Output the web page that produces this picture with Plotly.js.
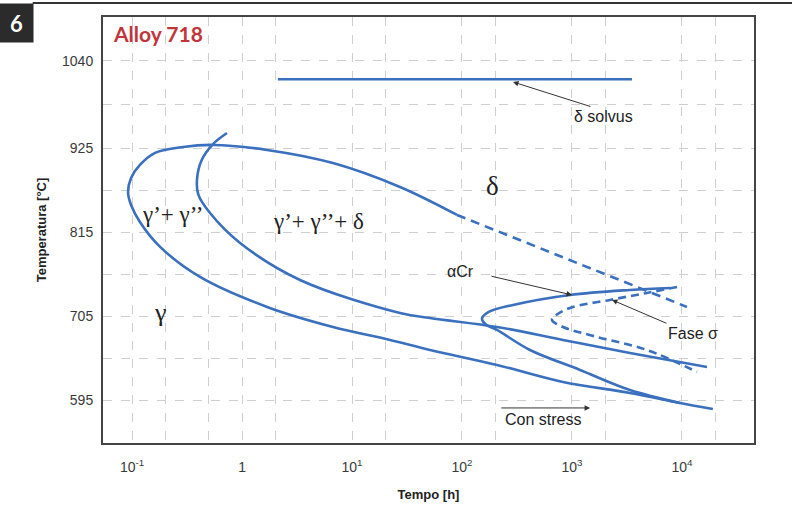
<!DOCTYPE html>
<html>
<head>
<meta charset="utf-8">
<script src="https://cdn.plot.ly/plotly-3.0.1.min.js"></script>
<style>html,body{margin:0;padding:0;background:#fff;}#chart{width:792px;height:512px;}</style>
</head>
<body>
<div id="chart"></div>
<script>
// Tick labels
const xTickVals = [0.1, 1, 10, 100, 1000, 10000];
const xTickText = ['10<sup>-1</sup>', '1', '10<sup>1</sup>', '10<sup>2</sup>', '10<sup>3</sup>', '10<sup>4</sup>'];
const xMinorGrid = [0.2, 0.5, 2, 20, 200, 2000, 20000];
const yTickVals = [595, 705, 815, 925, 1040];
const yMinorGrid = [650, 760, 870, 982.5];

// delta solvus
const solvusTime = [2.12, 3510];
const solvusTemp = [1016, 1016];

// outer curve: gamma'+gamma'' start (upper boundary, nose, lower branch)
const outerTime = [90.1, 27.3, 6.71, 1.69, 0.545, 0.291, 0.162, 0.118, 0.098, 0.092, 0.098, 0.118, 0.18, 0.415, 1.69, 6.71, 22.2, 51.2, 208, 828, 3367, 9590, 19100];
const outerTemp = [837.9, 874.6, 906, 923.2, 929.8, 927.1, 919.3, 903.5, 886.5, 868.1, 851.0, 828.7, 796, 756.6, 717.2, 690.9, 673.9, 660.7, 641.1, 618.7, 604.3, 591.2, 583.3];

// inner curve: delta start
const innerTime = [0.73, 0.545, 0.43, 0.39, 0.40, 0.512, 0.96, 3.37, 27.3, 51.2, 208, 828, 3367, 16900];
const innerTemp = [945.5, 931, 910, 885, 865, 840.5, 801.2, 752.6, 709.3, 702.7, 690.9, 673.9, 656.8, 638.4];

// alpha-Cr curve
const alphaTime = [7780, 3367, 959, 291, 175, 152, 165, 208, 415, 1183, 3367, 9590];
const alphaTemp = [742.1, 739.5, 732.9, 719.8, 710.6, 702, 694, 687, 660.7, 634.5, 608.2, 591.2];

// sigma phase curve (dashed)
const sigmaTime = [9015, 4806, 2215, 959, 700, 658, 828, 1688, 4806, 13700];
const sigmaTemp = [743.4, 735.5, 726.4, 715.9, 705.4, 700.1, 690.9, 677.8, 660.7, 631.9];

// delta boundary extension (dashed)
const deltaDashTime = [90.1, 11100];
const deltaDashTemp = [837.9, 717.2];

const blue = '#3a70bd';
const lw = 2.6;
function tr(x, y, dash) {
  return {x: x, y: y, type: 'scatter', mode: 'lines',
    line: {color: blue, width: lw, shape: 'spline', smoothing: 1.0, dash: dash || 'solid'},
    hoverinfo: 'skip', showlegend: false};
}
const data = [
  tr(solvusTime, solvusTemp),
  tr(outerTime, outerTemp),
  tr(innerTime, innerTemp),
  tr(alphaTime, alphaTemp),
  tr(sigmaTime, sigmaTemp, '8px,5px'),
  tr(deltaDashTime, deltaDashTemp, '9px,6px')
];

const L = Math.log10;
const serif = 'Liberation Serif, DejaVu Serif, serif';
const sans = 'Liberation Sans, Arial, sans-serif';
function txt(t, x, y, size, fam, extra) {
  return Object.assign({text: t, x: L(x), y: y, xref: 'x', yref: 'y', showarrow: false,
    xanchor: 'center', yanchor: 'middle',
    font: {family: fam, size: size, color: '#222'}}, extra || {});
}
function arrow(x0, y0, x1, y1) {
  return {text: '', x: L(x1), y: y1, ax: L(x0), ay: y0, xref: 'x', yref: 'y', axref: 'x', ayref: 'y',
    showarrow: true, arrowhead: 2, arrowsize: 1.1, arrowwidth: 1, arrowcolor: '#333', standoff: 0, startstandoff: 0};
}

const annotations = [
  txt('δ solvus', 1915, 966.5, 16, sans),
  txt('δ', 191, 876, 27, serif),
  txt('γ’+ γ’’', 0.235, 837.9, 23, serif),
  txt('γ’+ γ’’+ δ', 4.91, 828.7, 23, serif),
  txt('γ', 0.18, 709.3, 26, serif),
  txt('αCr', 97, 763.1, 16, sans),
  txt('Fase σ', 12600, 681.7, 16, sans),
  txt('Con stress', 545, 568.9, 16, sans),
  arrow(1520, 979.6, 291, 1012.4),
  arrow(180, 757.9, 1000, 732.9),
  arrow(7460, 694.9, 2310, 726.4),
  arrow(221, 584.6, 1460, 584.6),
  {text: '<b>Alloy 718</b>', xref: 'paper', yref: 'paper', x: 0.0845, y: 0.962, xanchor: 'center', yanchor: 'middle',
   showarrow: false, font: {family: 'Lato, Liberation Sans, sans-serif', size: 21, color: '#c0353a'}},
  {text: '<b>6</b>', xref: 'paper', yref: 'paper', x: -0.1336, y: 0.987, xanchor: 'center', yanchor: 'middle',
   showarrow: false, width: 29, height: 34, bgcolor: '#2b2b2b', borderpad: 2,
   font: {family: 'Lato, Liberation Sans, sans-serif', size: 22, color: '#ffffff'}}
];

const shapes = [
  {type: 'line', xref: 'paper', yref: 'paper', x0: -0.108, x1: 1.06, y0: 1.033, y1: 1.033,
   line: {color: '#333', width: 2}}
];

const layout = {
  width: 792, height: 512,
  margin: {l: 103, r: 38, t: 17, b: 69},
  paper_bgcolor: '#ffffff', plot_bgcolor: '#ffffff',
  showlegend: false,
  xaxis: {
    type: 'log', range: [-1.264, 4.655],
    tickvals: xTickVals, ticktext: xTickText, ticks: '', ticklabelstandoff: 10,
    tickfont: {family: sans, size: 14, color: '#3a3a3a'},
    showline: true, mirror: true, linecolor: '#444', linewidth: 2, zeroline: false,
    showgrid: true, gridcolor: '#cfcfcf', griddash: 'dash', gridwidth: 1,
    minor: {tickvals: xMinorGrid, showgrid: true, gridcolor: '#cfcfcf', griddash: 'dash', gridwidth: 1, ticks: ''},
    title: {text: '<b>Tempo [h]</b>', font: {family: sans, size: 13, color: '#222'}, standoff: 16}
  },
  yaxis: {
    range: [538.6, 1097.7],
    tickvals: yTickVals, ticktext: yTickVals.map(String), ticks: '', ticklabelstandoff: 5,
    tickfont: {family: sans, size: 14, color: '#3a3a3a'},
    showline: true, mirror: true, linecolor: '#444', linewidth: 2, zeroline: false,
    showgrid: true, gridcolor: '#cfcfcf', griddash: 'dash', gridwidth: 1,
    minor: {tickvals: yMinorGrid, showgrid: true, gridcolor: '#cfcfcf', griddash: 'dash', gridwidth: 1, ticks: ''},
    title: {text: '<b>Temperatura [°C]</b>', font: {family: sans, size: 13, color: '#222'}, standoff: 12}
  },
  annotations: annotations,
  shapes: shapes
};

Plotly.newPlot('chart', data, layout, {displayModeBar: false, staticPlot: true});
</script>
</body>
</html>
